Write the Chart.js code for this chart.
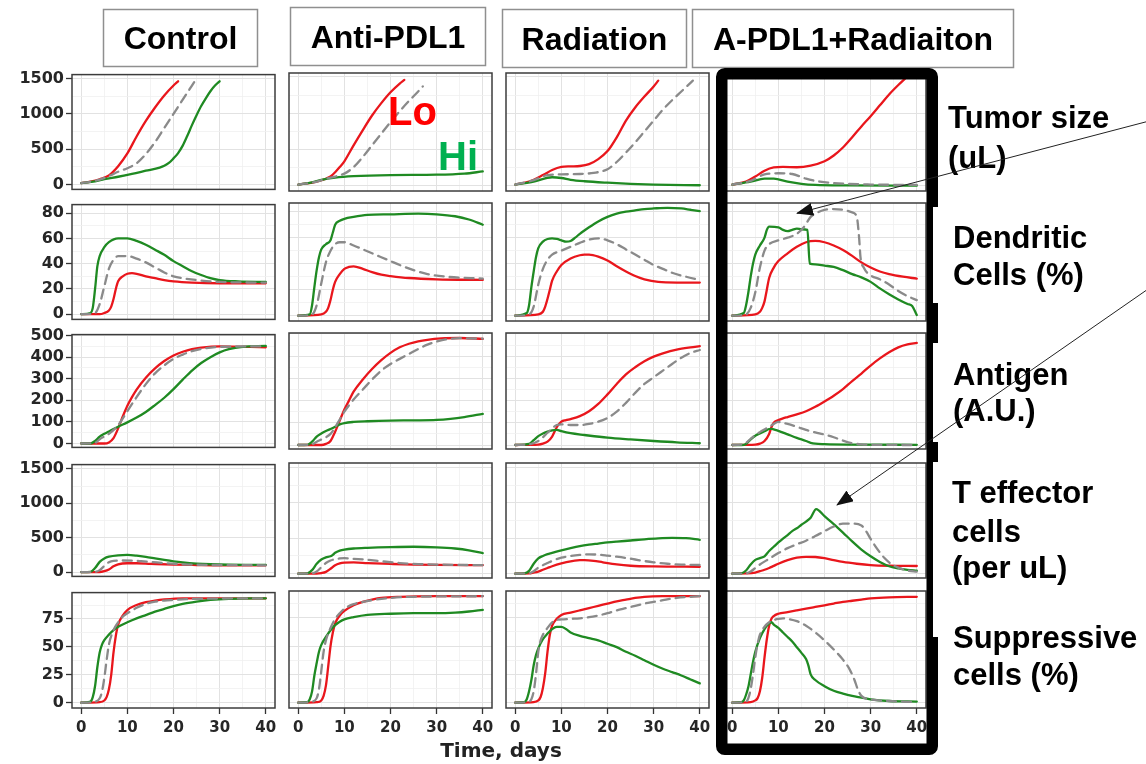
<!DOCTYPE html>
<html lang="en">
<head>
<meta charset="UTF-8" />
<title>Simulated response by treatment</title>
<script src="https://cdn.jsdelivr.net/npm/chart.js@4"></script>
<style>
  html, body { margin: 0; padding: 0; background: #fff; }
  #fig { position: relative; width: 1146px; height: 764px; overflow: hidden; background: #fff; }
  #fig canvas { position: absolute; z-index: 1; }
  #overlay { position: absolute; left: 0; top: 0; z-index: 2; }
</style>
</head>
<body>
<div id="fig">
  <svg id="overlay" width="1146" height="764" xmlns="http://www.w3.org/2000/svg">
    <defs>
      <marker id="head" markerUnits="userSpaceOnUse" markerWidth="17" markerHeight="13" refX="16" refY="6.5" orient="auto">
        <path d="M0,0 L17,6.5 L0,13 z" fill="#111" />
      </marker>
    </defs>
    <!-- column header boxes -->
    <g fill="#fff" stroke="#8f8f8f" stroke-width="1.5">
      <rect x="103.5" y="9.5" width="154" height="57" />
      <rect x="290.5" y="7.5" width="195" height="58" />
      <rect x="502.5" y="9.5" width="184" height="58" />
      <rect x="692.5" y="9.5" width="321" height="58" />
    </g>
    <g font-family="'Liberation Sans', Arial, sans-serif" font-weight="bold" font-size="32" text-anchor="middle" fill="#000">
      <text x="180.5" y="49">Control</text>
      <text x="388" y="48">Anti-PDL1</text>
      <text x="594.5" y="50">Radiation</text>
      <text x="853" y="50">A-PDL1+Radiaiton</text>
    </g>
    <!-- thick frame round the combination column -->
    <rect x="721.75" y="73.75" width="210.5" height="675.5" rx="3" fill="none" stroke="#000" stroke-width="11.5" />
    <g fill="#fff">
      <rect x="933" y="207" width="14" height="96" />
      <rect x="933" y="343" width="14" height="99" />
      <rect x="933" y="462" width="14" height="175" />
    </g>
    <!-- row labels -->
    <g font-family="'Liberation Sans', Arial, sans-serif" font-weight="bold" font-size="31" fill="#000">
      <text x="948" y="128">Tumor size</text>
      <text x="948" y="168">(uL)</text>
      <text x="953" y="248">Dendritic</text>
      <text x="953" y="285">Cells (%)</text>
      <text x="953" y="385">Antigen</text>
      <text x="953" y="421">(A.U.)</text>
      <text x="952" y="503">T effector</text>
      <text x="952" y="542">cells</text>
      <text x="952" y="578">(per uL)</text>
      <text x="953" y="648">Suppressive</text>
      <text x="953" y="685">cells (%)</text>
    </g>
    <g font-family="'Liberation Sans', Arial, sans-serif" font-weight="bold" font-size="40">
      <text x="388" y="125" fill="#ff0000">Lo</text>
      <text x="438" y="170" fill="#00b050">Hi</text>
    </g>
    <text x="501" y="757" font-family="'DejaVu Sans', sans-serif" font-weight="bold" font-size="20" text-anchor="middle" fill="#222">Time, days</text>
    <!-- arrows -->
    <g stroke="#222" stroke-width="1" fill="none">
      <line x1="1150" y1="120.8" x2="797" y2="213.3" marker-end="url(#head)" />
      <line x1="1150" y1="287.7" x2="837" y2="505" marker-end="url(#head)" />
    </g>
  </svg>
</div>

<script>
// axis ticks
const xTicks = [0, 10, 20, 30, 40];
const xMinor = [5, 15, 25, 35];
const yTicksTumor = [0, 500, 1000, 1500];
const yMinorTumor = [250, 750, 1250];
const yTicksDC = [0, 20, 40, 60, 80];
const yMinorDC = [10, 30, 50, 70];
const yTicksAntigen = [0, 100, 200, 300, 400, 500];
const yMinorAntigen = [50, 150, 250, 350, 450];
const yTicksTeff = [0, 500, 1000, 1500];
const yMinorTeff = [250, 750, 1250];
const yTicksSupp = [0, 25, 50, 75];
const yMinorSupp = [12.5, 37.5, 62.5, 87.5];

// series as [day, value]; Lo = red, Hi = green, Mid = grey dashed
// Tumor size (uL)
const tumorControlLo = [[0,20],[2,40],[4,75],[6,130],[8,260],[10,440],[12,680],[14,900],[16,1090],[18,1260],[20,1400],[21,1460]];
const tumorControlMid = [[0,20],[2,40],[4,70],[6,120],[8,180],[10,230],[12,300],[14,430],[16,600],[18,800],[20,1000],[22,1200],[24,1400],[25,1500]];
const tumorControlHi = [[0,20],[3,45],[5,75],[8,110],[11,150],[14,195],[17,240],[18,265],[19,305],[20,370],[21,445],[22,550],[23,690],[24,840],[25,980],[26,1110],[27,1220],[28,1320],[29,1400],[30,1460]];
const tumorAntiLo = [[0,20],[2,35],[4,60],[6,100],[7,130],[8,190],[9,260],[10,340],[12,560],[14,770],[16,970],[18,1140],[20,1290],[22,1410],[23,1460]];
const tumorAntiMid = [[0,20],[4,60],[6,100],[8,130],[10,170],[12,260],[14,400],[16,560],[18,720],[20,880],[22,1030],[24,1170],[26,1300],[27,1370]];
const tumorAntiHi = [[0,20],[3,50],[5,85],[8,115],[12,135],[20,150],[30,155],[36,170],[40,200]];
const tumorRadLo = [[0,20],[3,60],[6,150],[8,220],[10,262],[12,270],[14,275],[16,300],[18,370],[20,480],[22,670],[24,900],[26,1080],[28,1230],[30,1370],[31,1450]];
const tumorRadMid = [[0,20],[4,80],[7,150],[10,160],[14,165],[17,180],[20,230],[22,330],[24,460],[26,600],[28,750],[30,900],[32,1050],[34,1180],[36,1300],[38.5,1450]];
const tumorRadHi = [[0,20],[4,60],[8,120],[10,110],[12,85],[15,65],[20,45],[25,30],[30,20],[40,10]];
const tumorComboLo = [[0,20],[3,60],[5,130],[7,210],[9,255],[11,262],[14,258],[17,280],[20,340],[22,420],[24,530],[26,670],[28,820],[30,960],[32,1110],[34,1260],[36,1390],[37.5,1480]];
const tumorComboMid = [[0,20],[4,70],[7,160],[10,175],[13,165],[16,100],[19,60],[23,35],[30,20],[40,15]];
const tumorComboHi = [[0,20],[4,60],[7,100],[9,100],[12,60],[15,30],[18,15],[25,8],[40,5]];

// Dendritic cells (%)
const dcControlLo = [[0,0],[4,0],[5,1],[6,3],[6.5,6],[7,12],[7.5,20],[8,26],[9,30],[10,32],[11,32.5],[12,32],[14,30],[16,28.5],[18,27],[20,26],[24,25],[30,24.5],[40,24.5]];
const dcControlMid = [[0,0],[3,1],[4,8],[5,22],[6,36],[7,43],[8,46],[10,46],[12,44],[14,41],[16,37],[18,33],[20,30],[22,28.5],[25,27],[30,25.5],[40,25]];
const dcControlHi = [[0,0],[2,1],[2.5,5],[3,20],[3.5,38],[4,46],[5,53],[6,57],[8,60],[10,60],[12,58],[14,55],[16,51],[18,47],[20,42],[22,38],[24,34],[26,31],[28,28.5],[30,27],[34,26],[40,25.5]];
const dcAntiLo = [[0,0],[5,1],[6,3],[6.5,6],[7,12],[7.5,20],[8,26],[9,32],[10,36],[11,37.5],[12,38],[14,36],[16,33.5],[18,31.5],[20,30.5],[24,29],[30,28],[40,27.5]];
const dcAntiMid = [[0,0],[3,1],[4,8],[5,25],[6,41],[7,50],[8,55],[9,56.5],[10,56.5],[12,54],[14,51],[16,48],[18,45],[20,42],[22,39],[25,35],[28,32],[32,30],[40,28.5]];
const dcAntiHi = [[0,0],[2.5,1],[3,8],[3.5,22],[4,35],[4.5,45],[5,51],[6,55],[7,58],[7.5,64],[8,70],[9,73],[10,74.5],[12,76],[15,77.5],[20,78],[26,78.5],[30,78],[34,76.5],[37,74],[40,70]];
const dcRadLo = [[0,0],[5,1],[6,3],[6.5,7],[7,13],[7.5,20],[8,27],[9,34],[10,39],[12,44],[14,46.5],[15,47],[16,47],[18,45.5],[20,42.5],[22,38],[24,34],[26,30.5],[28,28],[31,26],[35,25.5],[40,25.5]];
const dcRadMid = [[0,0],[3,1],[4,7],[5,24],[6,36],[7,43],[8,47],[10,50],[12,53],[14,56],[16,58.5],[18,59.5],[20,58],[22,55],[24,51],[26,47],[28,43],[30,39],[32,36],[34,33],[37,30],[40,27.5]];
const dcRadHi = [[0,0],[2.5,2],[3,8],[3.5,22],[4,34],[4.5,45],[5,52],[6,57],[7,59],[8,59.5],[9,59],[10,58],[11,57],[12,57.5],[13,60],[14,63],[16,68],[18,72.5],[20,76],[22,78.5],[24,80],[26,81],[28,82],[30,82.5],[33,83],[36,82.5],[38,81.5],[40,80.5]];
const dcComboLo = [[0,0],[5,1],[6,3],[6.5,6],[7,11],[7.5,20],[8,29],[9,37],[10,42],[12,48],[14,53],[16,56.5],[18,57.5],[20,56.5],[22,54],[24,50.5],[26,46],[28,41],[30,37],[32,34],[34,32],[37,30],[40,28.5]];
const dcComboMid = [[0,0],[3,1],[4,6],[5,18],[6,37],[7,50],[8,55],[10,58],[12,60],[14,63],[15.5,68],[17,76],[18.5,79.5],[20,81.5],[22,82],[24,81.5],[26,79.5],[27,76],[27.5,60],[27.8,45],[28.5,37],[30,31],[32,28],[34,24],[36,19],[38,15],[40,12]];
const dcComboHi = [[0,0],[2.5,2],[3,8],[3.5,18],[4,30],[4.5,40],[5,47],[6,54],[7,60],[7.5,66],[8,68.5],[10,68],[11,66],[12,65],[13,66],[14,67],[15,66.5],[16.3,66],[16.8,40],[18,39.5],[20,38.5],[22,37.5],[24,35],[26,32],[28,29.5],[30,26],[32,21],[34,16.5],[36,12.5],[38,9],[39,7.5],[40,0.5]];

// Antigen (A.U.)
const agControlLo = [[0,0],[5,0],[6,5],[7,25],[8,70],[9,125],[10,175],[11,215],[12,250],[14,305],[16,348],[18,382],[20,408],[22,425],[24,437],[26,444],[30,450],[40,446]];
const agControlMid = [[0,0],[3,3],[4,20],[6,45],[8,85],[10,150],[12,215],[14,275],[16,325],[18,362],[20,392],[22,412],[24,428],[26,438],[30,448],[40,450]];
const agControlHi = [[0,0],[2,0],[3,12],[4,32],[5,45],[6,56],[8,78],[10,98],[12,120],[14,146],[16,178],[18,212],[20,252],[22,296],[24,338],[26,373],[28,400],[30,422],[32,437],[35,448],[40,452]];
const agAntiLo = [[0,0],[5,0],[6,5],[7,18],[8,60],[9,110],[10,160],[11,200],[12,240],[14,295],[16,342],[18,382],[20,415],[22,440],[24,456],[26,467],[28,474],[31,480],[35,482],[40,478]];
const agAntiMid = [[0,0],[3,3],[4,15],[5,25],[6,35],[7,50],[8,80],[9,115],[10,150],[12,205],[14,250],[16,295],[18,335],[20,365],[22,388],[24,410],[26,432],[28,452],[30,466],[32,476],[35,481],[40,479]];
const agAntiHi = [[0,0],[2,1],[3,15],[4,38],[5,52],[6,63],[7,72],[8,82],[9,93],[10,99],[12,104],[15,107],[20,110],[25,111],[30,113],[33,118],[36,126],[40,140]];
const agRadLo = [[0,0],[5,2],[6,6],[7,15],[8,38],[9,80],[10,105],[11,112],[12,117],[14,130],[16,152],[18,185],[20,228],[22,275],[24,318],[26,350],[28,377],[30,398],[32,413],[35,430],[38,440],[40,445]];
const agRadMid = [[0,0],[3,3],[5,18],[6,35],[7,55],[8,75],[9,90],[10,93],[12,90],[14,90],[16,95],[18,105],[20,122],[22,150],[24,190],[26,235],[28,275],[30,305],[32,335],[34,365],[36,393],[38,415],[40,428]];
const agRadHi = [[0,0],[3,5],[4,22],[5,40],[6,52],[7,60],[8,66],[9,68],[10,62],[12,53],[15,45],[20,33],[25,25],[30,18],[35,12],[40,8]];
const agComboLo = [[0,0],[5,2],[6,6],[7,18],[8,50],[8.5,80],[9,100],[10,112],[11,120],[12,126],[14,138],[16,152],[18,172],[20,196],[22,222],[24,252],[26,288],[28,322],[30,358],[32,390],[34,418],[36,440],[38,453],[40,460]];
const agComboMid = [[0,0],[2,2],[3,10],[4,28],[5,45],[6,58],[7,70],[8,82],[9,95],[10,104],[11,100],[12,95],[14,82],[16,68],[18,57],[20,47],[22,35],[24,20],[26,8],[28,3],[30,1],[40,0]];
const agComboHi = [[0,0],[2,0],[3,5],[4,25],[5,42],[6,52],[7,62],[8,72],[8.5,73],[9,70],[10,64],[12,48],[14,32],[16,18],[17,10],[18,6],[20,4],[25,2],[40,1]];

// T effector cells (per uL)
const teffControlLo = [[0,0],[4,2],[5,15],[6,40],[7,85],[8,115],[10,130],[12,130],[15,122],[20,110],[25,104],[30,100],[40,100]];
const teffControlMid = [[0,0],[3,5],[4,30],[5,90],[6,145],[7,165],[9,170],[11,168],[13,160],[15,150],[18,132],[21,118],[25,108],[40,100]];
const teffControlHi = [[0,0],[2,5],[3,60],[4,150],[5,200],[6,225],[8,245],[10,250],[12,240],[14,222],[16,200],[18,178],[20,158],[22,142],[25,125],[28,115],[32,108],[40,105]];
const teffAntiLo = [[0,0],[4,1],[5,8],[6,25],[7,70],[8,120],[9,145],[10,155],[12,158],[15,150],[20,138],[25,128],[30,123],[40,120]];
const teffAntiMid = [[0,0],[3,5],[4,30],[5,90],[6,150],[7,185],[8,205],[9,215],[10,218],[12,210],[15,195],[18,175],[22,150],[26,135],[30,128],[40,120]];
const teffAntiHi = [[0,0],[2,5],[3,50],[4,140],[5,200],[6,230],[7,245],[7.5,265],[8,295],[9,325],[10,340],[12,355],[15,365],[20,375],[25,380],[30,372],[34,355],[37,330],[40,290]];
const teffRadLo = [[0,0],[3,3],[4,15],[5,30],[6,55],[7,80],[8,105],[10,145],[12,175],[14,190],[15,192],[17,182],[19,160],[22,130],[25,112],[30,102],[40,98]];
const teffRadMid = [[0,0],[3,5],[4,35],[5,85],[6,120],[7,150],[8,180],[10,225],[12,250],[14,265],[16,272],[18,268],[20,255],[22,240],[24,222],[26,200],[28,178],[30,160],[33,140],[36,128],[40,122]];
const teffRadHi = [[0,0],[2,5],[3,40],[4,140],[5,215],[6,250],[7,275],[8,292],[10,330],[12,362],[14,390],[16,410],[18,425],[20,440],[22,452],[25,468],[28,485],[31,498],[34,504],[37,500],[40,478]];
const teffComboLo = [[0,0],[3,3],[5,15],[6,35],[7,55],[8,80],[9,110],[10,140],[12,190],[14,225],[16,238],[18,235],[20,218],[22,190],[24,165],[27,140],[30,122],[34,112],[40,108]];
const teffComboMid = [[0,0],[3,5],[4,30],[5,80],[6,130],[8,210],[10,290],[12,360],[14,415],[16,465],[18,530],[20,600],[22,665],[24,705],[26,705],[28,680],[29,600],[30,490],[31,390],[32,300],[33,220],[34,160],[35,115],[36,85],[38,45],[40,28]];
const teffComboHi = [[0,0],[2,5],[3,45],[4,130],[5,195],[6,220],[7,245],[8,320],[9,380],[10,440],[11,495],[12,545],[13,600],[14,640],[15,690],[16,735],[17,790],[18.2,910],[20,810],[22,700],[24,580],[26,455],[28,340],[30,245],[32,165],[34,105],[36,75],[38,55],[40,42]];

// Suppressive cells (%)
const suppControlLo = [[0,0],[4,0.5],[5,2],[5.5,5],[6,12],[6.5,25],[7,45],[7.5,60],[8,70],[9,78],[10,83],[12,87.5],[14,90],[16,91.5],[18,92.5],[22,93.5],[40,93.5]];
const suppControlMid = [[0,0],[3,1],[4,4],[4.5,10],[5,22],[5.5,38],[6,52],[7,65],[8,72],[9,77],[10,80],[12,85],[14,88.5],[16,90.5],[18,91.5],[20,92],[25,93],[40,93.5]];
const suppControlHi = [[0,0],[2,1],[2.5,5],[3,15],[3.5,32],[4,45],[4.5,52],[5,56],[6,61],[7,65],[8,68],[10,72],[12,75.5],[14,78.5],[16,81.5],[18,84],[20,86.5],[22,88.5],[25,90.5],[28,92],[32,93],[40,93.5]];
const suppAntiLo = [[0,0],[4,0.5],[5,2],[5.5,6],[6,15],[6.5,32],[7,50],[7.5,62],[8,70],[9,77],[10,81],[12,86],[14,89],[16,91],[18,92.5],[22,93.5],[30,94],[40,94]];
const suppAntiMid = [[0,0],[3,1],[4,4],[4.5,12],[5,28],[5.5,45],[6,55],[7,66],[8,74],[9,79],[10,83],[12,87],[14,89],[16,90.5],[20,92.5],[25,93.5],[40,94]];
const suppAntiHi = [[0,0],[2,0.5],[2.5,3],[3,10],[3.5,24],[4,35],[4.5,45],[5,51],[6,58],[7,64],[8,68.5],[9,71.5],[10,73.5],[12,75.5],[15,77.5],[20,78.5],[25,79],[30,79],[34,79.5],[37,80.5],[40,82]];
const suppRadLo = [[0,0],[4,0.5],[5,2],[5.5,5],[6,13],[6.5,26],[7,45],[7.5,60],[8,68],[9,74],[10,77.5],[12,79.5],[14,81.5],[16,83.5],[18,85.5],[20,87.5],[22,89.5],[24,91],[26,92.5],[28,93.5],[32,94],[40,94]];
const suppRadMid = [[0,0],[3,1],[3.5,3],[4,10],[4.5,25],[5,45],[5.5,55],[6,60],[7,66],[8,71],[9,73],[10,73.5],[12,74],[14,74.5],[16,75.5],[18,77],[20,79],[22,81.5],[24,83.5],[26,85.5],[28,87.5],[30,89],[32,90.5],[35,92.5],[38,93.5],[40,94]];
const suppRadHi = [[0,0],[2,0.5],[2.5,3],[3,10],[3.5,20],[4,33],[4.5,42],[5,48],[6,56],[7,61],[8,65],[9,67],[10,67],[11,65],[12,62],[14,59],[16,57],[18,55],[20,52],[22,49],[24,45],[26,41.5],[28,37.5],[30,33.5],[32,30],[34,27],[36,24],[38,20.5],[40,17]];
const suppComboLo = [[0,0],[4,0.5],[5,2],[5.5,4],[6,10],[6.5,22],[7,40],[7.5,56],[8,68],[8.5,74],[9,76.5],[10,78.5],[12,80],[14,81.5],[16,83],[18,84.5],[20,86],[22,87.5],[24,89],[26,90],[28,91],[30,92],[34,93],[40,93.5]];
const suppComboMid = [[0,0],[3,1],[3.5,4],[4,12],[4.5,25],[5,40],[5.5,52],[6,60],[7,67],[8,71],[9,73],[10,74],[11,74.5],[12,74],[14,72],[16,68],[18,62],[20,55],[22,47],[24,38],[25.5,29],[26.5,20],[27.2,12],[28,6],[30,3],[34,1.5],[40,0.5]];
const suppComboHi = [[0,0],[2,0.5],[2.5,2],[3,7],[3.5,14],[4,25],[4.5,36],[5,45],[6,57],[7,65],[8,70],[8.5,71],[9,69],[10,66],[11,62],[12,58],[13,54],[14,49],[15,44],[16,38.5],[16.5,33],[17,25],[18,20],[20,14.5],[22,10.5],[24,8],[26,6],[28,4.5],[30,3],[34,1.5],[40,1]];

// grid of panels: rows = measure, cols = treatment; each entry [Lo, Hi, Mid]
const panelSeries = [
  [[tumorControlLo, tumorControlHi, tumorControlMid], [tumorAntiLo, tumorAntiHi, tumorAntiMid], [tumorRadLo, tumorRadHi, tumorRadMid], [tumorComboLo, tumorComboHi, tumorComboMid]],
  [[dcControlLo, dcControlHi, dcControlMid], [dcAntiLo, dcAntiHi, dcAntiMid], [dcRadLo, dcRadHi, dcRadMid], [dcComboLo, dcComboHi, dcComboMid]],
  [[agControlLo, agControlHi, agControlMid], [agAntiLo, agAntiHi, agAntiMid], [agRadLo, agRadHi, agRadMid], [agComboLo, agComboHi, agComboMid]],
  [[teffControlLo, teffControlHi, teffControlMid], [teffAntiLo, teffAntiHi, teffAntiMid], [teffRadLo, teffRadHi, teffRadMid], [teffComboLo, teffComboHi, teffComboMid]],
  [[suppControlLo, suppControlHi, suppControlMid], [suppAntiLo, suppAntiHi, suppAntiMid], [suppRadLo, suppRadHi, suppRadMid], [suppComboLo, suppComboHi, suppComboMid]]
];
const rowTicks = [yTicksTumor, yTicksDC, yTicksAntigen, yTicksTeff, yTicksSupp];
const rowMinor = [yMinorTumor, yMinorDC, yMinorAntigen, yMinorTeff, yMinorSupp];
const rowRange = [[-69, 1555], [-4.1, 86.7], [-18, 504.5], [-61, 1561], [-4.7, 98.6]];

// layout
const colLeft = [72, 289, 506, 723];
const panelW = 203;
const rowTop = [73, 203, 333, 463, 591];
const rowH = [118, 118, 116, 115, 117];
const PAD = 10;

const RED = '#e9161c';
const GREEN = '#1f8a22';
const GREY = '#8a8a8a';
const GRID_MAJOR = '#e2e2e2';
const GRID_MINOR = '#f0f0f0';
const TICK_FONT = "'DejaVu Sans', sans-serif";

const framePlugin = {
  id: 'panelFrame',
  afterDatasetsDraw(chart) {
    const { ctx, chartArea: a } = chart;
    ctx.save();
    ctx.strokeStyle = '#3c3c3c';
    ctx.lineWidth = 1.5;
    ctx.strokeRect(a.left, a.top, a.right - a.left, a.bottom - a.top);
    ctx.restore();
  }
};

function toXY(pairs) {
  return pairs.map(p => ({ x: p[0], y: p[1] }));
}

function axisOptions(major, minor, range, showLabels, size, isX) {
  const all = major.concat(minor).sort((a, b) => a - b);
  const isMajor = ctx => ctx.tick && major.includes(ctx.tick.value);
  return {
    type: 'linear',
    min: range[0],
    max: range[1],
    afterBuildTicks: axis => { axis.ticks = all.map(v => ({ value: v })); },
    afterFit: scale => { if (isX) scale.height = size; else scale.width = size; },
    ticks: {
      display: showLabels,
      autoSkip: false,
      maxRotation: 0,
      padding: isX ? 5 : 2,
      color: '#262626',
      font: { family: TICK_FONT, weight: 'bold', size: isX ? 15 : 16 },
      callback: v => major.includes(v) ? String(v) : ''
    },
    grid: {
      color: ctx => isMajor(ctx) ? GRID_MAJOR : GRID_MINOR,
      lineWidth: ctx => isMajor(ctx) ? 1 : 0.8,
      drawTicks: showLabels,
      tickLength: 6,
      tickWidth: 1.3,
      tickColor: ctx => isMajor(ctx) ? '#333' : 'rgba(0,0,0,0)'
    },
    border: { display: false }
  };
}

const fig = document.getElementById('fig');

function drawPanel(r, c) {
  const left = colLeft[c], top = rowTop[r], w = panelW, h = rowH[r];
  const yW = c === 0 ? 62 : 0;
  const xH = r === 4 ? 34 : 0;
  const canvas = document.createElement('canvas');
  canvas.width = PAD + yW + w + PAD;
  canvas.height = PAD + h + xH + PAD;
  canvas.style.width = canvas.width + 'px';
  canvas.style.height = canvas.height + 'px';
  canvas.style.left = (left - yW - PAD) + 'px';
  canvas.style.top = (top - PAD) + 'px';
  fig.appendChild(canvas);

  const [lo, hi, mid] = panelSeries[r][c];
  new Chart(canvas, {
    type: 'line',
    data: {
      datasets: [
        { data: toXY(mid), borderColor: GREY, borderDash: [9, 6], borderWidth: 2.3 },
        { data: toXY(hi), borderColor: GREEN, borderWidth: 2.3 },
        { data: toXY(lo), borderColor: RED, borderWidth: 2.3 }
      ]
    },
    options: {
      responsive: false,
      animation: false,
      devicePixelRatio: 1,
      events: [],
      layout: { padding: PAD },
      elements: {
        point: { radius: 0 },
        line: { cubicInterpolationMode: 'monotone', fill: false, borderCapStyle: 'round', borderJoinStyle: 'round' }
      },
      plugins: { legend: { display: false }, tooltip: { enabled: false } },
      scales: {
        x: axisOptions(xTicks, xMinor, [-2, 42], r === 4, xH, true),
        y: axisOptions(rowTicks[r], rowMinor[r], rowRange[r], c === 0, yW, false)
      }
    },
    plugins: [framePlugin]
  });
}

for (let r = 0; r < 5; r++) {
  for (let c = 0; c < 4; c++) drawPanel(r, c);
}
</script>
</body>
</html>
